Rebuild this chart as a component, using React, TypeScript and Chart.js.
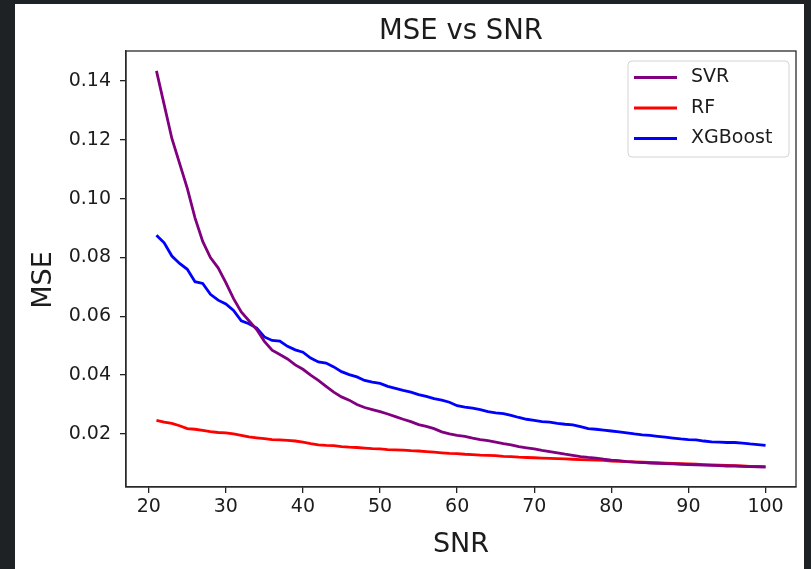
import React, { useEffect, useRef } from "react";
import { Chart, registerables } from "chart.js";

Chart.register(...registerables);

const snr: number[] = [
  21, 22, 23, 24, 25, 26, 27, 28, 29, 30, 31, 32, 33, 34, 35, 36, 37, 38, 39, 40,
  41, 42, 43, 44, 45, 46, 47, 48, 49, 50, 51, 52, 53, 54, 55, 56, 57, 58, 59, 60,
  61, 62, 63, 64, 65, 66, 67, 68, 69, 70, 71, 72, 73, 74, 75, 76, 77, 78, 79, 80,
  81, 82, 83, 84, 85, 86, 87, 88, 89, 90, 91, 92, 93, 94, 95, 96, 97, 98, 99, 100,
];

const svrMse: number[] = [
  0.1435, 0.1320, 0.1205, 0.1120, 0.1035, 0.0935, 0.0855, 0.0800, 0.0765, 0.0715,
  0.0660, 0.0615, 0.0585, 0.0555, 0.0515, 0.0485, 0.0470, 0.0455, 0.0435, 0.0420,
  0.0400, 0.0382, 0.0362, 0.0342, 0.0326, 0.0315, 0.0300, 0.0290, 0.0283, 0.0276,
  0.0268, 0.0259, 0.0250, 0.0242, 0.0232, 0.0226, 0.0218, 0.0207, 0.0200, 0.0195,
  0.0192, 0.0186, 0.0181, 0.0177, 0.0172, 0.0167, 0.0163, 0.0157, 0.0153, 0.0149,
  0.0144, 0.0140, 0.0136, 0.0131, 0.0127, 0.0123, 0.0120, 0.0118, 0.0114, 0.0111,
  0.0109, 0.0106, 0.0104, 0.0103, 0.0101, 0.0100, 0.0099, 0.0098, 0.0097, 0.0096,
  0.0095, 0.0094, 0.0093, 0.0092, 0.0091, 0.0091, 0.0090, 0.0089, 0.0088, 0.0087,
];

const rfMse: number[] = [
  0.0246, 0.0240, 0.0236, 0.0228, 0.0218, 0.0216, 0.0212, 0.0208, 0.0205, 0.0204,
  0.0200, 0.0195, 0.0190, 0.0187, 0.0184, 0.0181, 0.0180, 0.0178, 0.0176, 0.0172,
  0.0167, 0.0163, 0.0161, 0.0160, 0.0157, 0.0155, 0.0154, 0.0152, 0.0150, 0.0149,
  0.0147, 0.0146, 0.0145, 0.0143, 0.0142, 0.0140, 0.0138, 0.0136, 0.0134, 0.0133,
  0.0131, 0.0130, 0.0128, 0.0127, 0.0126, 0.0124, 0.0123, 0.0121, 0.0120, 0.0119,
  0.0118, 0.0117, 0.0116, 0.0115, 0.0114, 0.0113, 0.0112, 0.0111, 0.0110, 0.0108,
  0.0107, 0.0106, 0.0105, 0.0104, 0.0103, 0.0102, 0.0101, 0.0100, 0.0099, 0.0098,
  0.0097, 0.0096, 0.0095, 0.0094, 0.0093, 0.0092, 0.0091, 0.0090, 0.0090, 0.0089,
];

const xgbMse: number[] = [
  0.0876, 0.0850, 0.0805, 0.0780, 0.0760, 0.0718, 0.0712, 0.0675, 0.0655, 0.0642,
  0.0620, 0.0585, 0.0575, 0.0560, 0.0530, 0.0518, 0.0516, 0.0498, 0.0486, 0.0478,
  0.0458, 0.0445, 0.0441, 0.0428, 0.0412, 0.0402, 0.0394, 0.0382, 0.0376, 0.0372,
  0.0362, 0.0355, 0.0348, 0.0342, 0.0334, 0.0328, 0.0320, 0.0315, 0.0308, 0.0296,
  0.0291, 0.0288, 0.0283, 0.0276, 0.0272, 0.0269, 0.0263, 0.0256, 0.0250, 0.0246,
  0.0242, 0.0240, 0.0236, 0.0233, 0.0231, 0.0225, 0.0218, 0.0216, 0.0213, 0.0210,
  0.0207, 0.0204, 0.0200, 0.0197, 0.0195, 0.0192, 0.0189, 0.0186, 0.0183, 0.0181,
  0.0180, 0.0176, 0.0173, 0.0172, 0.0171, 0.0171, 0.0169, 0.0166, 0.0164, 0.0161,
];

const seriesNames: string[] = ["SVR", "RF", "XGBoost"];
const seriesColors: string[] = ["#800080", "#ff0000", "#0000ff"];

const xTicks: number[] = [20, 30, 40, 50, 60, 70, 80, 90, 100];
const xTickLabels: string[] = ["20", "30", "40", "50", "60", "70", "80", "90", "100"];
const yTicks: number[] = [0.02, 0.04, 0.06, 0.08, 0.1, 0.12, 0.14];
const yTickLabels: string[] = ["0.02", "0.04", "0.06", "0.08", "0.10", "0.12", "0.14"];

const titleText = "MSE vs SNR";
const xTitle = "SNR";
const yTitle = "MSE";

const FONT = "'DejaVu Sans', sans-serif";
const TEXT = "#1c1c1c";

export default function App() {
  const canvasRef = useRef<HTMLCanvasElement | null>(null);

  useEffect(() => {
    const canvas = canvasRef.current;
    if (!canvas) return;

    const allY = [...svrMse, ...rfMse, ...xgbMse];
    const yLo = Math.min(...allY);
    const yHi = Math.max(...allY);
    const xLo = Math.min(...snr);
    const xHi = Math.max(...snr);
    const xm = (xHi - xLo) * 0.05;
    const ym = (yHi - yLo) * 0.05;

    const bgPlugin = {
      id: "bg",
      beforeDraw(chart: any) {
        const ctx = chart.ctx;
        ctx.save();
        ctx.fillStyle = "#1f2225";
        ctx.fillRect(0, 0, chart.width, chart.height);
        ctx.fillStyle = "#ffffff";
        ctx.fillRect(15, 4, chart.width - 15 - 7, chart.height - 4);
        ctx.restore();
      },
    };

    const framePlugin = {
      id: "frame",
      afterDatasetsDraw(chart: any) {
        const { ctx, chartArea } = chart;
        ctx.save();
        ctx.strokeStyle = "#2a2a2a";
        ctx.lineWidth = 1.3;
        ctx.strokeRect(chartArea.left, chartArea.top, chartArea.right - chartArea.left, chartArea.bottom - chartArea.top);
        ctx.restore();
      },
    };

    const yLabelPlugin = {
      id: "yLabel",
      afterDraw(chart: any) {
        const { ctx, chartArea } = chart;
        ctx.save();
        ctx.translate(44, (chartArea.top + chartArea.bottom) / 2 + 11);
        ctx.rotate(-Math.PI / 2);
        ctx.fillStyle = TEXT;
        ctx.font = `27px ${FONT}`;
        ctx.textAlign = "center";
        ctx.textBaseline = "middle";
        ctx.fillText(yTitle, 0, 0);
        ctx.restore();
      },
    };

    const legendPlugin = {
      id: "mplLegend",
      afterDatasetsDraw(chart: any) {
        const { ctx, chartArea } = chart;
        const w = 161;
        const h = 96;
        const x0 = chartArea.right - 7 - w;
        const y0 = chartArea.top + 10;
        ctx.save();
        ctx.fillStyle = "rgba(255,255,255,0.85)";
        ctx.strokeStyle = "#d4d4d4";
        ctx.lineWidth = 1;
        ctx.beginPath();
        const r = 4;
        ctx.moveTo(x0 + r, y0);
        ctx.lineTo(x0 + w - r, y0);
        ctx.quadraticCurveTo(x0 + w, y0, x0 + w, y0 + r);
        ctx.lineTo(x0 + w, y0 + h - r);
        ctx.quadraticCurveTo(x0 + w, y0 + h, x0 + w - r, y0 + h);
        ctx.lineTo(x0 + r, y0 + h);
        ctx.quadraticCurveTo(x0, y0 + h, x0, y0 + h - r);
        ctx.lineTo(x0, y0 + r);
        ctx.quadraticCurveTo(x0, y0, x0 + r, y0);
        ctx.closePath();
        ctx.fill();
        ctx.stroke();
        chart.data.datasets.forEach((ds: any, i: number) => {
          const cy = y0 + 16.5 + i * 30.5;
          ctx.strokeStyle = ds.borderColor;
          ctx.lineWidth = 2.8;
          ctx.beginPath();
          ctx.moveTo(x0 + 6, cy);
          ctx.lineTo(x0 + 49, cy);
          ctx.stroke();
          ctx.fillStyle = TEXT;
          ctx.font = `19px ${FONT}`;
          ctx.textBaseline = "middle";
          ctx.textAlign = "left";
          ctx.fillText(ds.label, x0 + 63, cy);
        });
        ctx.restore();
      },
    };

    const chart = new Chart(canvas, {
      type: "line",
      data: {
        datasets: [svrMse, rfMse, xgbMse].map((vals, i) => ({
          label: seriesNames[i],
          data: snr.map((s, j) => ({ x: s, y: vals[j] })),
          borderColor: seriesColors[i],
          backgroundColor: seriesColors[i],
          borderWidth: 2.8,
          pointRadius: 0,
          tension: 0,
          fill: false,
        })),
      },
      options: {
        responsive: false,
        animation: false,
        devicePixelRatio: 1,
        layout: { padding: { left: 0, right: 15, top: 0, bottom: 0 } },
        plugins: {
          legend: { display: false },
          tooltip: { enabled: false },
          title: {
            display: true,
            text: titleText,
            fullSize: false,
            color: TEXT,
            font: { family: FONT, size: 27.5, weight: "normal" },
            padding: { top: 15, bottom: 3 },
          },
        },
        scales: {
          x: {
            type: "linear",
            min: xLo - xm,
            max: xHi + xm,
            afterFit: (s: any) => {
              s.height = 82;
            },
            afterBuildTicks: (s: any) => {
              s.ticks = xTicks.map((v) => ({ value: v }));
            },
            ticks: {
              color: TEXT,
              font: { family: FONT, size: 19 },
              padding: 3,
              maxRotation: 0,
              autoSkip: false,
              callback: (v: any) => {
                const k = xTicks.indexOf(Number(v));
                return k >= 0 ? xTickLabels[k] : "";
              },
            },
            grid: { display: true, drawOnChartArea: false, drawTicks: true, tickLength: 6, color: "#222", lineWidth: 1.3 },
            border: { display: true, color: "#2a2a2a", width: 1.3 },
            title: {
              display: true,
              text: xTitle,
              color: TEXT,
              font: { family: FONT, size: 27 },
              padding: { top: 0, bottom: 7.5 },
            },
          },
          y: {
            type: "linear",
            min: yLo - ym,
            max: yHi + ym,
            afterFit: (s: any) => {
              s.width = 126;
            },
            afterBuildTicks: (s: any) => {
              s.ticks = yTicks.map((v) => ({ value: v }));
            },
            ticks: {
              color: TEXT,
              font: { family: FONT, size: 19 },
              padding: 9,
              autoSkip: false,
              callback: (v: any) => {
                const k = yTicks.findIndex((t) => Math.abs(t - Number(v)) < 1e-9);
                return k >= 0 ? yTickLabels[k] : "";
              },
            },
            grid: { display: true, drawOnChartArea: false, drawTicks: true, tickLength: 6, color: "#222", lineWidth: 1.3 },
            border: { display: true, color: "#2a2a2a", width: 1.3 },
            title: { display: false },
          },
        },
      },
      plugins: [bgPlugin, framePlugin, legendPlugin, yLabelPlugin],
    } as any);

    return () => chart.destroy();
  }, []);

  return (
    <div style={{ position: "fixed", left: 0, top: 0, width: 811, height: 569 }}>
      <canvas ref={canvasRef} width={811} height={569} style={{ display: "block", width: 811, height: 569 }} />
    </div>
  );
}
